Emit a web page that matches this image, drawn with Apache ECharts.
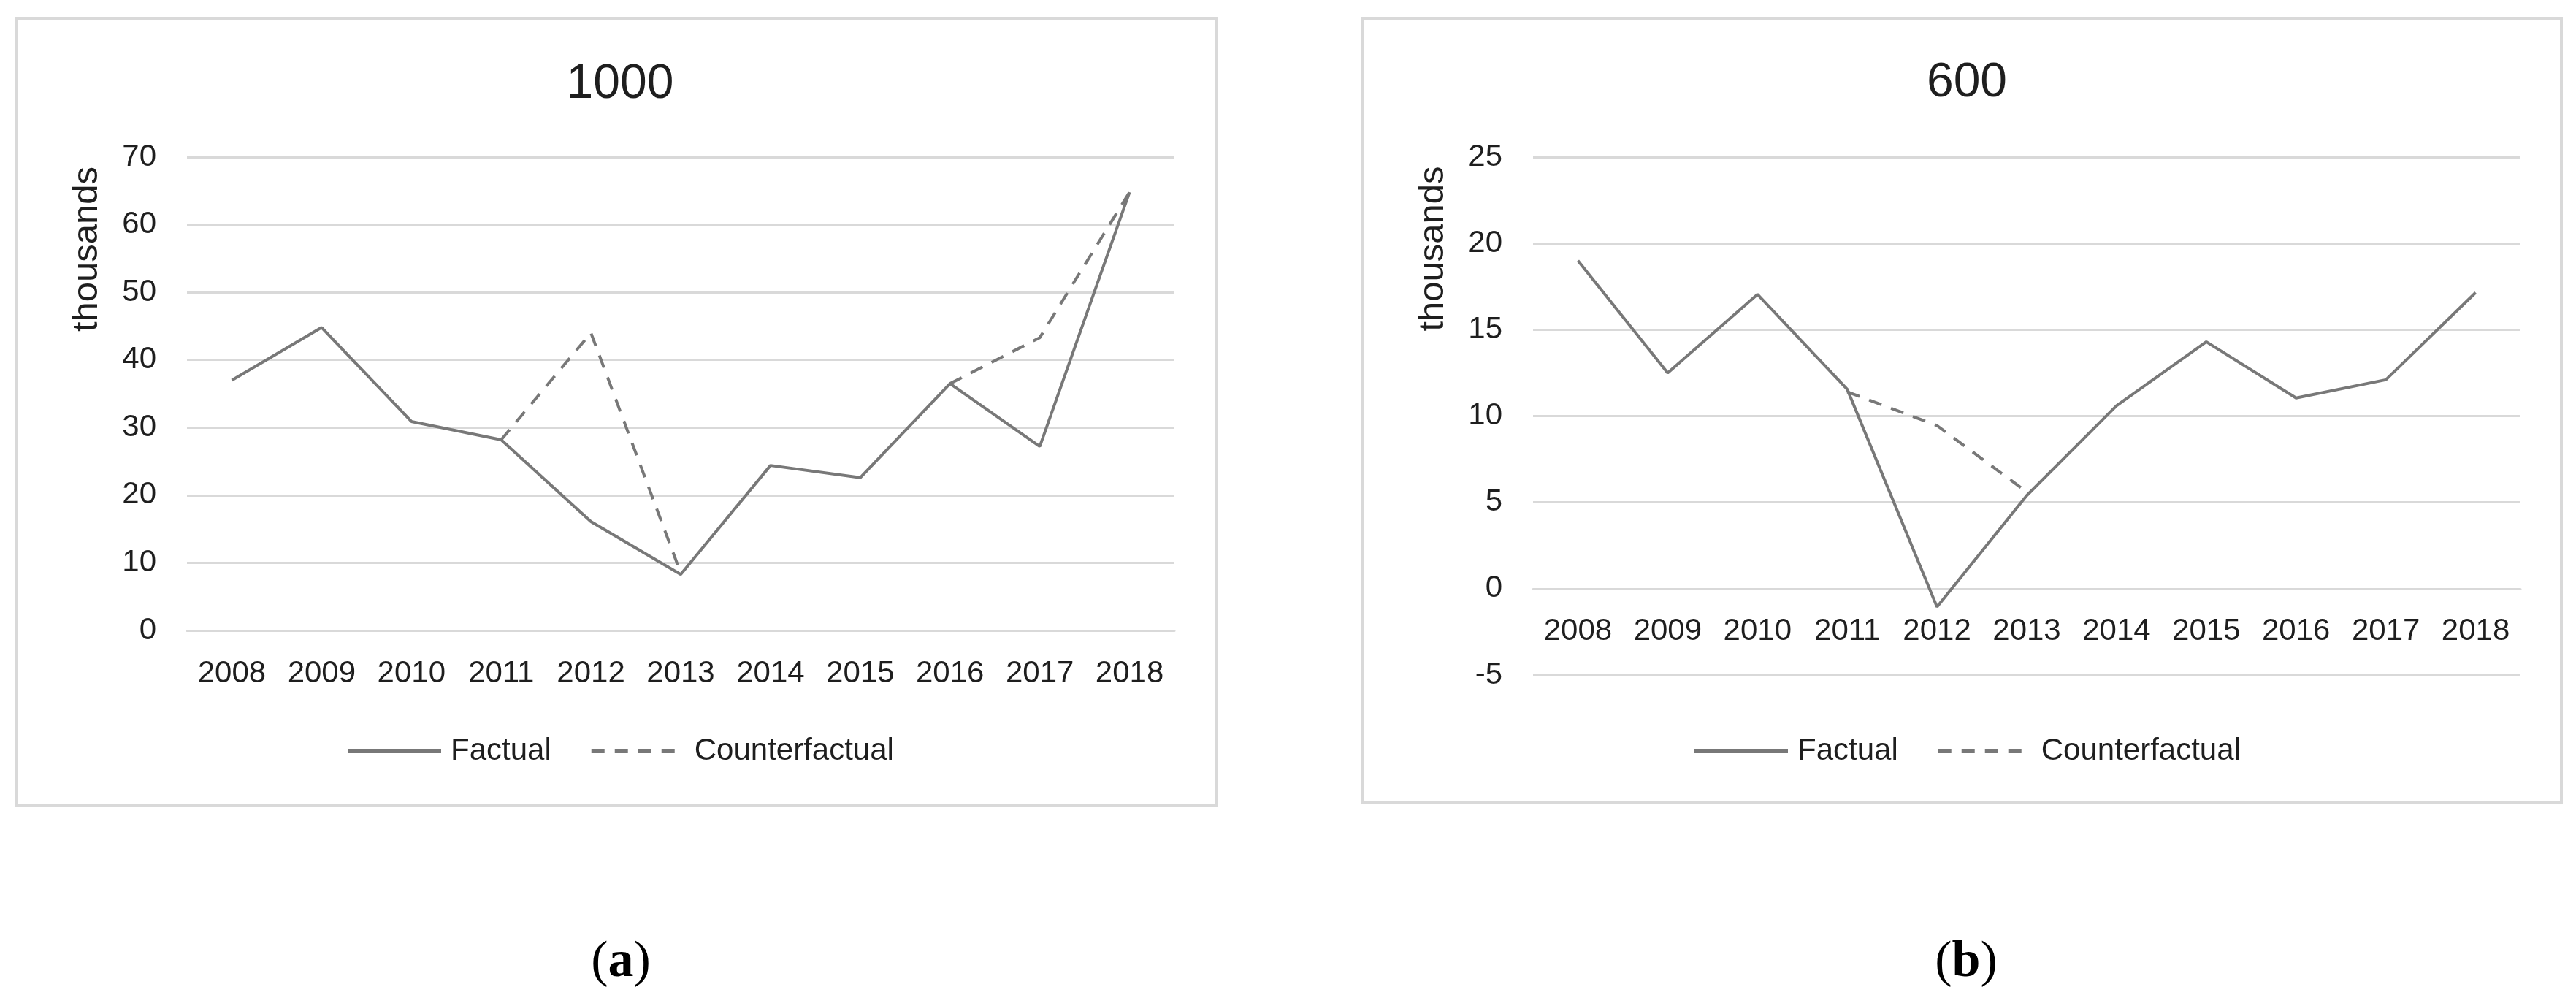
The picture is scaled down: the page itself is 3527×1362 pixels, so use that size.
<!DOCTYPE html>
<html>
<head>
<meta charset="utf-8">
<style>
  html, body { margin: 0; padding: 0; background: #ffffff; }
  #chart { width: 3527px; height: 1362px; }
</style>
<script src="https://cdn.jsdelivr.net/npm/echarts@6/dist/echarts.min.js"></script>
</head>
<body>
<div id="chart"></div>
<script>
// ---- data ----
const years = ['2008', '2009', '2010', '2011', '2012', '2013', '2014', '2015', '2016', '2017', '2018'];
const factualA = [37.0, 44.8, 30.9, 28.2, 16.1, 8.3, 24.4, 22.6, 36.5, 27.2, 64.8];
const counterfactualA = [null, null, null, 28.2, 44.0, 8.5, null, null, 36.5, 43.3, 64.8];
const factualB = [19.0, 12.5, 17.05, 11.55, -1.05, 5.4, 10.6, 14.3, 11.05, 12.1, 17.15];
const counterfactualB = [null, null, null, 11.4, 9.45, 5.6, null, null, null, null, null];
const panelTitles = ['1000', '600'];
const panelLetters = ['a', 'b'];
const seriesNames = ['Factual', 'Counterfactual'];
const yAxisName = 'thousands';

// ---- styles ----
const FONT = '"Liberation Sans", Arial, sans-serif';
const LINE_COLOR = '#787878';
const GRID_COLOR = '#d9d9d9';
const TEXT_COLOR = '#1e1e1e';
const DASH = [18, 14];

const chart = echarts.init(document.getElementById('chart'), null, { renderer: 'canvas' });

function yAxisFor(gridIndex, min, max, interval, namePad) {
  return {
    type: 'value',
    gridIndex: gridIndex,
    min: min, max: max, interval: interval,
    name: yAxisName,
    nameLocation: 'middle',
    nameRotate: 90,
    nameGap: 112,
    nameTextStyle: { fontFamily: FONT, fontSize: 49, color: TEXT_COLOR, padding: [0, 0, 0, namePad] },
    axisLine: { show: false },
    axisTick: { show: false },
    axisLabel: { fontFamily: FONT, fontSize: 42, color: TEXT_COLOR, margin: 42 },
    splitLine: { show: true, lineStyle: { color: GRID_COLOR, width: 3 } }
  };
}

function xAxisFor(gridIndex, offset) {
  return {
    type: 'category',
    gridIndex: gridIndex,
    data: years,
    boundaryGap: true,
    position: 'bottom',
    offset: offset,
    axisLine: { show: true, onZero: false, lineStyle: { color: GRID_COLOR, width: 3 } },
    axisTick: { show: false },
    axisLabel: { fontFamily: FONT, fontSize: 42, color: TEXT_COLOR, margin: 38, interval: 0 }
  };
}

function legendFor(left) {
  return {
    left: left,
    top: 1002,
    orient: 'horizontal',
    data: seriesNames,
    itemWidth: 128,
    itemHeight: 12,
    itemGap: 52,
    lineStyle: { width: 6 },
    itemStyle: { color: 'rgba(0,0,0,0)', borderWidth: 0, opacity: 0 },
    textStyle: { fontFamily: FONT, fontSize: 42, color: TEXT_COLOR, padding: [0, 0, 0, 8] }
  };
}

const letterRich = {
  p: { fontFamily: '"Liberation Serif", "Times New Roman", serif', fontSize: 70, color: '#000', fontWeight: 'normal' },
  b: { fontFamily: '"Liberation Serif", "Times New Roman", serif', fontSize: 70, color: '#000', fontWeight: 'bold' }
};

const option = {
  backgroundColor: '#ffffff',
  animation: false,
  title: [
    { text: panelTitles[0], left: 844, top: 78, textAlign: 'center',
      textStyle: { fontFamily: FONT, fontSize: 66, fontWeight: 'normal', color: TEXT_COLOR } },
    { text: panelTitles[1], left: 2688, top: 76, textAlign: 'center',
      textStyle: { fontFamily: FONT, fontSize: 66, fontWeight: 'normal', color: TEXT_COLOR } },
    { text: '{p|(}{b|' + panelLetters[0] + '}{p|)}', left: 845, top: 1278, textAlign: 'center',
      textStyle: { rich: letterRich } },
    { text: '{p|(}{b|' + panelLetters[1] + '}{p|)}', left: 2687, top: 1278, textAlign: 'center',
      textStyle: { rich: letterRich } }
  ],
  graphic: [
    { type: 'rect', silent: true, z: -1,
      shape: { x: 22, y: 25, width: 1643, height: 1077 },
      style: { fill: 'none', stroke: GRID_COLOR, lineWidth: 4 } },
    { type: 'rect', silent: true, z: -1,
      shape: { x: 1866, y: 25, width: 1641, height: 1074 },
      style: { fill: 'none', stroke: GRID_COLOR, lineWidth: 4 } }
  ],
  legend: [legendFor(468), legendFor(2312)],
  grid: [
    { left: 256, top: 215, width: 1352, height: 648, containLabel: false },
    { left: 2099, top: 215, width: 1352, height: 709, containLabel: false }
  ],
  // panel (b): the category axis sits on the zero line, 5 of 30 units above the grid bottom
  xAxis: [xAxisFor(0, 0), xAxisFor(1, -709 * 5 / 30)],
  yAxis: [
    yAxisFor(0, 0, 70, 10, 396),
    yAxisFor(1, -5, 25, 5, 458)
  ],
  series: [
    { name: seriesNames[1], type: 'line', xAxisIndex: 0, yAxisIndex: 0, data: counterfactualA,
      symbol: 'none', z: 2, connectNulls: false,
      itemStyle: { color: LINE_COLOR },
      lineStyle: { color: LINE_COLOR, width: 4, type: DASH } },
    { name: seriesNames[0], type: 'line', xAxisIndex: 0, yAxisIndex: 0, data: factualA,
      symbol: 'none', z: 3,
      itemStyle: { color: LINE_COLOR },
      lineStyle: { color: LINE_COLOR, width: 4, type: 'solid' } },
    { name: seriesNames[1], type: 'line', xAxisIndex: 1, yAxisIndex: 1, data: counterfactualB,
      symbol: 'none', z: 2, connectNulls: false,
      itemStyle: { color: LINE_COLOR },
      lineStyle: { color: LINE_COLOR, width: 4, type: DASH } },
    { name: seriesNames[0], type: 'line', xAxisIndex: 1, yAxisIndex: 1, data: factualB,
      symbol: 'none', z: 3,
      itemStyle: { color: LINE_COLOR },
      lineStyle: { color: LINE_COLOR, width: 4, type: 'solid' } }
  ]
};

chart.setOption(option);
</script>
</body>
</html>
